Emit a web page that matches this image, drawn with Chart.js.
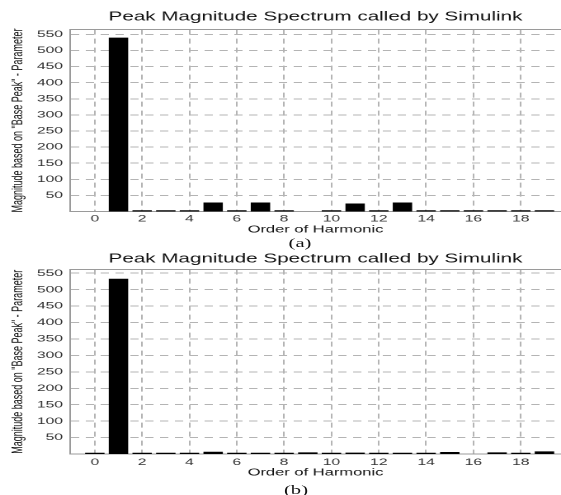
<!DOCTYPE html>
<html><head><meta charset="utf-8">
<script src="https://cdn.jsdelivr.net/npm/chart.js@4"></script>
<style>
html,body{margin:0;padding:0;background:#fff;overflow:hidden;width:561px;height:495px}
#stage{position:absolute;left:0;top:0;width:340px;height:495px;transform:scaleX(1.65);transform-origin:0 0}
.panel{position:absolute;left:0;width:340px}
canvas{display:block}
.cap{position:absolute;font-family:"Liberation Serif","Times New Roman",serif;font-size:12.5px;line-height:14px;color:#111;width:40px;text-align:center}
</style></head>
<body>
<div id="stage">
  <div class="panel" style="top:0;height:248px"><canvas id="cA" width="340" height="248"></canvas></div>
  <div class="panel" style="top:248px;height:247px"><canvas id="cB" width="340" height="247"></canvas></div>
  <div class="cap" style="left:161.8px;top:236px">(a)</div>
  <div class="cap" style="left:159.4px;top:483px">(b)</div>
</div>
<script>
// ---- data ----
const harmonicOrders = [0,1,2,3,4,5,6,7,8,9,10,11,12,13,14,15,16,17,18,19];
const magnitudeA = [null,540,1,1,1,28,1,28,1,null,1,25,1,28,1,1,1,1,1,1];
const magnitudeB = [1,533,1,2,1,7,1,1,1,5,1,4,1,1,1,6,null,5,1,8];
const xTickValues = [0,2,4,6,8,10,12,14,16,18];
const yTickValues = [50,100,150,200,250,300,350,400,450,500,550];
const chartTitle = 'Peak Magnitude Spectrum called by Simulink';
const xAxisTitle = 'Order of Harmonic';
const yAxisTitle = 'Magnitude based on "Base Peak" - Parameter';

Chart.defaults.font.family = '"Liberation Sans", Arial, Helvetica, sans-serif';
Chart.defaults.color = '#333';

const GRID = '#b4b4b4';
const AXIS = '#9a9a9a';

function makeChart(id, values, yMax, L) {
  const pts = [];
  harmonicOrders.forEach((h, i) => { if (values[i] !== null) pts.push({x: h, y: values[i]}); });
  return new Chart(document.getElementById(id), {
    type: 'bar',
    data: { datasets: [{
      data: pts,
      backgroundColor: '#000',
      borderWidth: 0,
      barPercentage: 0.82,
      categoryPercentage: 1,
      minBarLength: 1.3
    }]},
    options: {
      responsive: false,
      animation: false,
      devicePixelRatio: 2,
      layout: { padding: 0 },
      plugins: {
        legend: { display: false },
        tooltip: { enabled: false },
        title: {
          display: true, text: chartTitle, fullSize: false,
          color: '#111',
          font: { size: 12.5, weight: 'normal', lineHeight: 1.2 },
          padding: { top: L.titleTop, bottom: L.titleBottom }
        }
      },
      scales: {
        x: {
          type: 'linear', position: 'bottom', min: -1.05, max: 19.7,
          offset: false,
          afterBuildTicks: s => { s.ticks = xTickValues.map(v => ({value: v})); },
          afterFit: s => { s.height = L.xAxisHeight; },
          grid: { offset: false, color: GRID, lineWidth: 1, drawTicks: false },
          border: { display: true, color: AXIS, width: 1, dash: [5, 4] },
          ticks: { autoSkip: false, maxRotation: 0, padding: L.tickPad, color: '#333', font: { size: 9.5 } },
          title: { display: true, text: xAxisTitle, color: '#111', font: { size: 10, lineHeight: 1.2 }, padding: { top: 0, bottom: L.xTitleBottom } }
        },
        xTop: {
          type: 'linear', position: 'top', min: -1.05, max: 19.7, offset: false,
          afterFit: s => { s.height = 0; },
          grid: { display: false, drawTicks: false },
          border: { display: true, color: AXIS, width: 1 },
          ticks: { display: false }
        },
        y: {
          type: 'linear', position: 'left', min: 0, max: yMax,
          afterBuildTicks: s => { s.ticks = yTickValues.map(v => ({value: v})); },
          afterFit: s => { s.width = 42.4; },
          grid: { color: GRID, lineWidth: 1, drawTicks: false },
          border: { display: true, color: AXIS, width: 1, dash: [5, 4] },
          ticks: { padding: 4.2, color: '#333', font: { size: 9.5 } },
          title: { display: true, text: yAxisTitle, color: '#111', font: { size: 9, lineHeight: 1.2 }, padding: { top: 5.5, bottom: 0 } }
        }
      }
    }
  });
}

makeChart('cA', magnitudeA, 565, { titleTop: 9.6, titleBottom: 5.0, xAxisHeight: 36.5, tickPad: 1.5, xTitleBottom: 12.5 });
makeChart('cB', magnitudeB, 561, { titleTop: 3.6, titleBottom: 3.0, xAxisHeight: 41, tickPad: 2.5, xTitleBottom: 16.5 });
</script>
</body></html>
